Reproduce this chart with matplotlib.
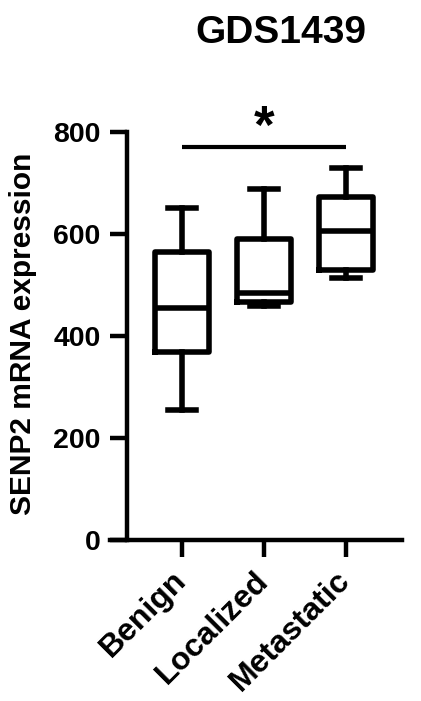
import matplotlib
matplotlib.use("Agg")
import matplotlib.pyplot as plt

plt.rcParams['font.family'] = ['Liberation Sans', 'DejaVu Sans']
plt.rcParams['font.weight'] = 'bold'

groups = ["Benign", "Localized", "Metastatic"]
whislo = [255, 458, 514]
q1 = [369, 467, 529]
med = [455, 484, 606]
q3 = [565, 590, 673]
whishi = [651, 688, 729]
yticks = [0, 200, 400, 600, 800]
title = "GDS1439"
ylabel = "SENP2 mRNA expression"
sig_pair = (1, 3)
sig_y = 770

stats = []
for i, g in enumerate(groups):
    stats.append(dict(label=g, whislo=whislo[i], q1=q1[i], med=med[i],
                      q3=q3[i], whishi=whishi[i], fliers=[]))

fig = plt.figure(figsize=(4.21, 7.01), dpi=100)
W, H = 421, 701
ax = fig.add_axes([110 / W, (H - 540) / H, 292 / W, 408 / H])

lw = 4.0
ax.bxp(stats, positions=[1, 2, 3], widths=0.65, showfliers=False,
       boxprops=dict(color='black', linewidth=lw),
       medianprops=dict(color='black', linewidth=lw),
       whiskerprops=dict(color='black', linewidth=lw),
       capprops=dict(color='black', linewidth=lw),
       capwidths=0.34, manage_ticks=False)

ax.set_xlim(0.122, 3.683)
ax.set_ylim(0, 800)
ax.spines['top'].set_visible(False)
ax.spines['right'].set_visible(False)
ax.spines['left'].set_position(('data', 0.329))
for s in ['left', 'bottom']:
    ax.spines[s].set_linewidth(3.2)
    ax.spines[s].set_capstyle('projecting')

ax.set_yticks(yticks)
ax.set_yticklabels([str(t) for t in yticks], fontsize=20.5, fontweight='bold')
ax.set_xticks([1, 2, 3])
ax.set_xticklabels(groups, fontsize=23, fontweight='bold', rotation=45,
                   ha='right', va='center', rotation_mode='anchor')
ax.tick_params(axis='both', length=12, width=3.2, pad=7)
ax.tick_params(axis='x', pad=14)

# significance bar
ax.plot(sig_pair, [sig_y, sig_y], color='black', linewidth=3.0,
        solid_capstyle='butt')
ax.text(sum(sig_pair) / 2, sig_y - 14, "*", fontsize=38, fontweight='bold',
        ha='center', va='bottom', clip_on=False)

fig.text(281 / W, 1 - 33 / H, title, fontsize=28, fontweight='bold',
         ha='center', va='center')
fig.text(23 / W, 1 - 334 / H, ylabel, fontsize=21.5, fontweight='bold',
         rotation=90, ha='center', va='center')

fig.savefig("out.png", dpi=100)
